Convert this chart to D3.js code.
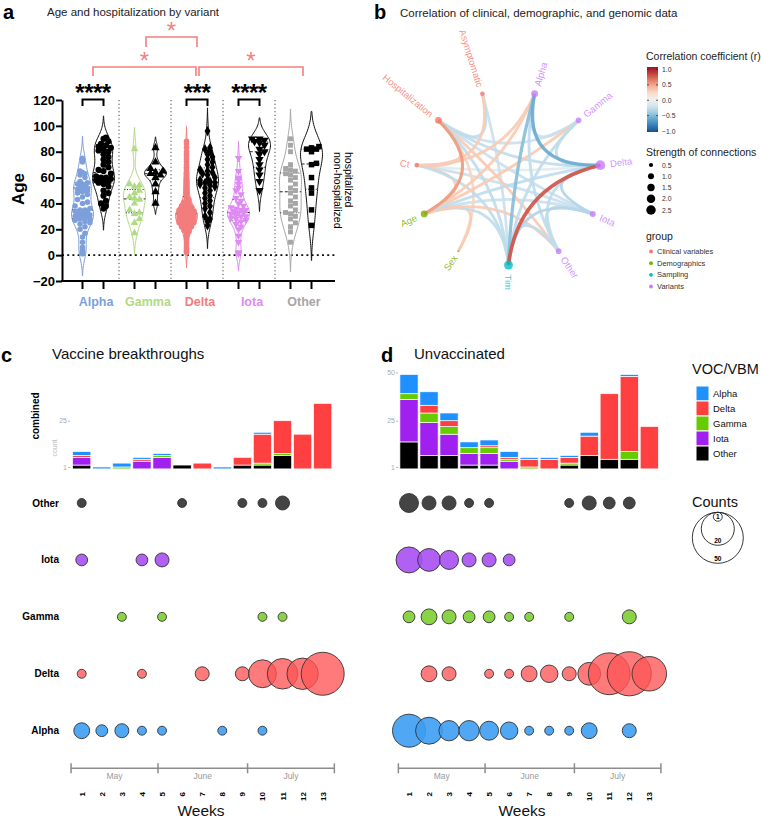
<!DOCTYPE html>
<html><head><meta charset="utf-8">
<script src="https://cdn.jsdelivr.net/npm/d3@7"></script>
<style>body{margin:0;background:#fff} svg{display:block;font-family:"Liberation Sans",Arial,sans-serif}</style>
</head><body><svg id="chart" width="761" height="818"></svg>
<script>
// ================= DATA =================
// Panel a: ages by variant, non-hospitalized / hospitalized
const groupsA = ["Alpha","Gamma","Delta","Iota","Other"];
const alphaNonHosp = [1,2,2,3,4,6,10,14,17,20,22,24,25,26,27,28,28,29,29,30,30,30,31,31,32,32,33,33,34,35,35,36,38,40,41,43,45,47,48,49,50,50,51,51,52,52,53,54,55,55,56,57,60,62,63,64,65,72,73,74,75];
const alphaHosp = [36,38,40,42,46,48,50,53,55,56,57,58,58,59,60,60,61,63,65,66,68,70,72,74,76,78,80,81,82,83,84,85,86,88,90,91];
const gammaNonHosp = [17,25,28,32,33,35,40,43,44,45,48,50,53,54,55,82];
const gammaHosp = [40,49,55,60,62,63,64,65,67,72,83];
const deltaNonHosp = [2,3,4,5,6,8,10,12,14,15,16,17,18,19,20,20,21,21,22,22,23,23,24,24,24,25,25,25,26,26,26,26,27,27,27,27,28,28,28,28,28,29,29,29,29,29,30,30,30,30,30,30,31,31,31,31,31,32,32,32,32,32,33,33,33,33,34,34,34,34,35,35,35,35,36,36,36,37,37,38,38,39,39,40,40,41,42,43,44,45,46,47,48,49,50,51,52,53,54,55,56,57,58,59,60,62,63,64,65,67,68,70,72,74,76,78,80,83,86,88];
const deltaHosp = [23,26,28,30,33,36,38,40,42,44,46,48,50,52,53,54,55,56,56,57,58,58,60,62,63,64,65,66,68,70,72,74,76,78,80,82,83,96];
const iotaNonHosp = [1,2,2,10,15,20,22,24,26,27,28,29,30,30,31,32,33,33,34,35,35,36,37,38,40,42,44,47,50,52,55,58,60,65,75];
const iotaHosp = [50,57,62,66,70,74,78,80,82,85,87,88,89,90,90];
const otherNonHosp = [10,18,22,25,28,30,32,33,35,38,40,42,45,48,50,52,55,58,60,62,63,65,66,67,70,80,85,90];
const otherHosp = [23,35,48,52,60,70,71,80,82,82,83,84];
const ageTicks = [-20,0,20,40,60,80,100,120];
const withinSig = ["****","","***","****",""];
const betweenSig = [["Gamma","Delta","*"],["Alpha","Delta","*"],["Delta","Other","*"]];

// Panel b: correlation network
const corrNodes = ["Time","Other","Iota","Delta","Gamma","Alpha","Asymptomatic","Hospitalization","Ct","Age","Sex"];
const corrNodeGroup = ["Sampling","Variants","Variants","Variants","Variants","Variants","Clinical variables","Clinical variables","Clinical variables","Demographics","Demographics"];
const corrNodeStrength = [2.2,0.9,1.0,2.7,0.9,1.3,0.6,1.3,0.6,1.3,0.1];
const corrEdges = [
 ["Hospitalization","Asymptomatic",-0.3],["Hospitalization","Age",0.5],["Hospitalization","Ct",0.3],
 ["Hospitalization","Delta",-0.3],["Hospitalization","Gamma",-0.25],["Hospitalization","Other",0.3],
 ["Hospitalization","Time",-0.3],["Hospitalization","Iota",-0.25],["Ct","Alpha",0.3],["Ct","Delta",-0.15],
 ["Ct","Age",0.3],["Ct","Time",-0.3],["Ct","Iota",-0.25],["Age","Sex",0.3],["Age","Alpha",0.3],
 ["Age","Gamma",0.3],["Age","Delta",-0.3],["Age","Time",-0.3],["Age","Other",0.3],["Age","Iota",-0.25],
 ["Asymptomatic","Ct",0.3],["Asymptomatic","Time",-0.25],["Alpha","Gamma",-0.25],["Alpha","Delta",-0.6],
 ["Alpha","Time",-0.5],["Alpha","Other",-0.3],["Gamma","Delta",-0.3],["Gamma","Time",-0.3],
 ["Delta","Iota",-0.35],["Delta","Other",-0.3],["Delta","Time",0.75],["Iota","Other",-0.3],
 ["Iota","Time",-0.35],["Other","Time",-0.3],["Sex","Hospitalization",0.25]];
const corrTicks = [1.0,0.5,0.0,-0.5,-1.0];
const strengthTicks = [0.5,1.0,1.5,2.0,2.5];
const groupNames = ["Clinical variables","Demographics","Sampling","Variants"];

// Panels c/d: weekly counts
const weekLabels = ["1","2","3","4","5","6","7","8","9","10","11","12","13"];
const monthLabels = ["May","June","July"];
const monthBreaks = [0.47,4.8,9.26,13.58];
const variantKeys = ["Alpha","Delta","Gamma","Iota","Other"];
// vaccine breakthroughs (bars)
const barC_Alpha = [2,1,2,1,1,0,0,1,0,1,0,0,0];
const barC_Delta = [1,0,0,1,0,0,3,0,4,15,17,18,34];
const barC_Gamma = [0,0,1,0,1,0,0,0,0,1,1,0,0];
const barC_Iota  = [4,0,0,4,6,0,0,0,0,0,0,0,0];
const barC_Other = [2,0,0,0,0,2,0,0,2,2,7,0,0];
// unvaccinated (bars)
const barD_Alpha = [10,7,4,3,3,3,1,1,1,2,0,1,0];
const barD_Delta = [0,4,3,0,1,1,4,5,3,10,34,39,22];
const barD_Gamma = [3,5,4,3,3,1,1,0,1,0,0,4,0];
const barD_Iota  = [22,17,11,6,6,4,0,0,0,0,0,0,0];
const barD_Other = [14,7,7,2,2,0,0,0,2,7,5,5,0];
// bubble rows
const bubC_Alpha = [4,2,3,1,1,0,0,1,0,1,0,0,0];
const bubC_Delta = [1,0,0,1,0,0,3,0,3,14,17,18,35];
const bubC_Gamma = [0,0,1,0,1,0,0,0,0,1,1,0,0];
const bubC_Iota  = [2,0,0,2,3,0,0,0,0,0,0,0,0];
const bubC_Other = [1,0,0,0,0,1,0,0,1,1,3,0,0];
const bubD_Alpha = [20,13,7,7,6,5,1,1,1,4,0,3,0];
const bubD_Delta = [0,4,3,0,1,1,4,5,3,9,33,37,22];
const bubD_Gamma = [2,4,3,2,2,1,1,0,1,0,0,3,0];
const bubD_Iota  = [12,9,6,3,3,2,0,0,0,0,0,0,0];
const bubD_Other = [6,3,3,1,1,0,0,0,1,3,2,2,0];
const countLegend = [50,20,1];

// ================= DRAW =================
const svg = d3.select("#chart");
const label = (g,x,y,t,size,opt={})=>{
  const e=g.append("text").attr("x",x).attr("y",y).attr("font-size",size).text(t);
  Object.entries(opt).forEach(([k,v])=>e.attr(k,v)); return e;};

// ---------- Panel a ----------
const gA = svg.append("g");
label(gA,3,19,"a",20,{"font-weight":"bold"});
label(gA,47,16,"Age and hospitalization by variant",11.5,{fill:"#222"});
const colA = ["#7d9fdb","#b0da84","#f47c7c","#df8af3","#a6a6a6"];
const yA = d3.scaleLinear().domain([-20,120]).range([281,100]);
const xA = d3.scaleBand().domain(groupsA).range([67,327]);
const cxA = (g,h)=>xA(g)+xA.bandwidth()/2+(h?10.5:-10.5);
const nonData = [alphaNonHosp,gammaNonHosp,deltaNonHosp,iotaNonHosp,otherNonHosp];
const hospData = [alphaHosp,gammaHosp,deltaHosp,iotaHosp,otherHosp];

groupsA.slice(1).forEach(g=>gA.append("line").attr("x1",xA(g)).attr("x2",xA(g)).attr("y1",yA(120)).attr("y2",yA(-20))
  .attr("stroke","#444").attr("stroke-width",1).attr("stroke-dasharray","1.2,2.5"));
gA.append("line").attr("x1",62).attr("x2",335).attr("y1",yA(0)).attr("y2",yA(0))
  .attr("stroke","#111").attr("stroke-width",1.8).attr("stroke-dasharray","2,3.2");

function kdeInfo(vals){
  const s=vals.slice().sort(d3.ascending), n=s.length;
  const sd=d3.deviation(s), iqr=d3.quantile(s,.75)-d3.quantile(s,.25);
  const h=0.9*Math.min(sd,iqr/1.34)*Math.pow(n,-0.2);
  const dens=y=>d3.sum(s,v=>Math.exp(-0.5*((y-v)/h)**2));
  const lo=s[0]-2.4*h, hi=s[n-1]+2.4*h;
  const pts=d3.range(0,81).map(i=>{const y=lo+(hi-lo)*i/80;return [y,dens(y)];});
  const mx=d3.max(pts,p=>p[1]);
  return {s,dens,pts,mx,lo,hi};
}
function drawViolin(vals,cx,color,sym,symSize,rot,fill){
  const k=kdeInfo(vals), W=11;
  const hw=y=>k.dens(y)/k.mx*W;
  const pts=[[k.lo,0],...k.pts,[k.hi,0]];
  const area=d3.area().y(p=>yA(p[0])).x0(p=>cx-p[1]/k.mx*W).x1(p=>cx+p[1]/k.mx*W).curve(d3.curveCatmullRom);
  gA.append("path").attr("d",area(pts)).attr("fill","none").attr("stroke",color).attr("stroke-width",1);
  [[.25,"1,1.6"],[.5,"3,2"],[.75,"1,1.6"]].forEach(([q,da])=>{
    const v=d3.quantile(k.s,q), w=hw(v);
    gA.append("line").attr("x1",cx-w).attr("x2",cx+w).attr("y1",yA(v)).attr("y2",yA(v))
      .attr("stroke","#222").attr("stroke-width",1).attr("stroke-dasharray",da);
  });
  const r=2.6, placed=[];
  k.s.forEach(v=>{
    const py=yA(v), maxOff=Math.max(0,hw(v)-1.5);
    const cands=[0]; for(let j=1;j<=8;j++){cands.push(j*r*0.95,-j*r*0.95);}
    let best=0,score=-1;
    for(const o of cands){
      if(Math.abs(o)>maxOff+0.01) continue;
      const md=placed.length?d3.min(placed,p=>Math.hypot(p[0]-(cx+o),p[1]-py)):99;
      if(md>=2*r*0.9){best=o;score=99;break;}
      if(md>score){score=md;best=o;}
    }
    placed.push([cx+best,py]);
  });
  gA.append("g").selectAll("path").data(placed).join("path")
    .attr("transform",p=>`translate(${p[0]},${p[1]}) rotate(${rot})`)
    .attr("d",d3.symbol().type(sym).size(symSize)).attr("fill",fill);
}
const symNon=[d3.symbolCircle,d3.symbolTriangle,d3.symbolCircle,d3.symbolTriangle,d3.symbolSquare];
const symHosp=[d3.symbolCircle,d3.symbolTriangle,d3.symbolDiamond,d3.symbolTriangle,d3.symbolSquare];
groupsA.forEach((g,i)=>{
  const rot = g==="Iota"?180:0;
  drawViolin(nonData[i],cxA(g,false),colA[i],symNon[i],24,rot,colA[i]);
  drawViolin(hospData[i],cxA(g,true),"#111",symHosp[i],30,rot,"#000");
});
const yAxisA=gA.append("g").attr("transform","translate(62,0)")
  .call(d3.axisLeft(yA).tickValues(ageTicks).tickSize(6).tickSizeOuter(0));
yAxisA.select(".domain").attr("stroke-width",2);
yAxisA.selectAll(".tick line").attr("stroke-width",2);
yAxisA.selectAll(".tick text").attr("font-size",13).attr("font-weight","bold").attr("fill","#000")
  .attr("font-family","Liberation Sans,Arial,sans-serif").attr("x",-7);
gA.append("line").attr("x1",61).attr("x2",335).attr("y1",281).attr("y2",281).attr("stroke","#000").attr("stroke-width",2);
groupsA.forEach(g=>[false,true].forEach(h=>gA.append("line").attr("x1",cxA(g,h)).attr("x2",cxA(g,h))
  .attr("y1",281).attr("y2",289).attr("stroke","#000").attr("stroke-width",2)));
groupsA.forEach((g,i)=>label(gA,xA(g)+xA.bandwidth()/2+3,305.5,g,12.5,{"font-weight":"bold",fill:colA[i],"text-anchor":"middle"}));
label(gA,0,0,"Age",17,{"font-weight":"bold","text-anchor":"middle","transform":"translate(24,189) rotate(-90)"});
label(gA,0,0,"hospitalized",10.5,{"transform":"translate(345,152) rotate(90)"});
label(gA,0,0,"non-hospitalized",10.5,{"transform":"translate(334,152) rotate(90)"});
groupsA.forEach((g,i)=>{
  if(!withinSig[i]) return;
  const x1=cxA(g,false),x2=cxA(g,true);
  gA.append("path").attr("d",`M${x1},106V99.5H${x2}V106`).attr("fill","none").attr("stroke","#000").attr("stroke-width",2);
  label(gA,(x1+x2)/2,101,withinSig[i],24,{"font-weight":"bold","text-anchor":"middle","letter-spacing":"-0.5"});
});
const redC="#f37f7f";
betweenSig.forEach(([a,b,s],i)=>{
  const top = i===0?37:67, leg = i===0?47:76;
  const x1=xA(a)+xA.bandwidth()/2+(i===2?2:0)+(i===0?1:0), x2=xA(b)+xA.bandwidth()/2+(i===1?-1:0)+(i===2?2:0);
  gA.append("path").attr("d",`M${x1},${leg}V${top}H${x2}V${leg}`).attr("fill","none").attr("stroke",redC).attr("stroke-width",1.6);
  label(gA,(x1+x2)/2,top+2,s,24,{fill:redC,"text-anchor":"middle"});
});

// ---------- Panel b ----------
svg.append("clipPath").attr("id","clipB").append("rect").attr("x",365).attr("y",0).attr("width",396).attr("height",290);
const gB = svg.append("g").attr("clip-path","url(#clipB)");
label(svg,374,19,"b",20,{"font-weight":"bold"});
label(gB,400,17,"Correlation of clinical, demographic, and genomic data",11.5,{fill:"#222"});
const groupColor = {"Clinical variables":"#F8766D","Demographics":"#7CAE00","Sampling":"#00BFC4","Variants":"#C77CFF"};
const cB={x:508.5,y:177.6}, Rx=92.7, Ry=87.4;
const angB=d3.scaleLinear().domain([0,corrNodes.length]).range([0,2*Math.PI]);
const nodePos={};
corrNodes.forEach((n,i)=>{const t=angB(i); nodePos[n]=[cB.x+Rx*Math.sin(t), cB.y+Ry*Math.cos(t)];});
const rdbu = d3.scaleLinear().domain([-1,1]).range([0.92,0.08]);
const edgeCol = r=>d3.interpolateRdBu(rdbu(r));
const pull=0.8;
corrEdges.slice().sort((a,b)=>Math.abs(a[2])-Math.abs(b[2])).forEach(([a,b,r])=>{
  const p=nodePos[a],q=nodePos[b];
  const mx=(p[0]+q[0])/2, my=(p[1]+q[1])/2;
  const qx=mx+pull*(cB.x-mx), qy=my+pull*(cB.y-my);
  gB.append("path").attr("d",`M${p[0]},${p[1]}Q${qx},${qy} ${q[0]},${q[1]}`)
    .attr("fill","none").attr("stroke",edgeCol(r)).attr("stroke-width",2.3+1.8*Math.abs(r)).attr("stroke-opacity",0.92);
});
const rNode = d3.scaleSqrt().domain([0,2.5]).range([0,4.75]);
corrNodes.forEach((n,i)=>{
  const [x,y]=nodePos[n], col=groupColor[corrNodeGroup[i]], rr=rNode(corrNodeStrength[i]);
  gB.append("circle").attr("cx",x).attr("cy",y).attr("r",rr).attr("fill",col).attr("fill-opacity",0.8);
  const dx=x-cB.x, dy=y-cB.y, L=Math.hypot(dx,dy), ux=dx/L, uy=dy/L;
  let ang=Math.atan2(dy,dx)*180/Math.PI, anchor="start";
  if(dx<-0.5){ang+=180;anchor="end";}
  const off=rr+5;
  label(gB,0,0,n,9.5,{fill:col,"fill-opacity":0.85,"text-anchor":anchor,"dominant-baseline":"central",
    transform:`translate(${x+ux*off},${y+uy*off}) rotate(${ang})`});
});
label(gB,646,60,"Correlation coefficient (r)",10.5,{fill:"#222"});
const yCb = d3.scaleLinear().domain([1,-1]).range([69.5,131]);
const grad=svg.append("defs").append("linearGradient").attr("id","rdbuG").attr("x1",0).attr("x2",0).attr("y1",0).attr("y2",1);
d3.range(0,11).forEach(i=>grad.append("stop").attr("offset",i/10).attr("stop-color",edgeCol(1.03-2.06*i/10)));
gB.append("rect").attr("x",647).attr("y",67).attr("width",11).attr("height",65).attr("fill","url(#rdbuG)");
corrTicks.forEach(t=>{
  [[647,649],[656,658]].forEach(([a,b])=>gB.append("line").attr("x1",a).attr("x2",b).attr("y1",yCb(t)).attr("y2",yCb(t)).attr("stroke","#333").attr("stroke-width",0.8));
  label(gB,662,yCb(t),t.toFixed(1).replace("-","\u2212"),6.8,{"dominant-baseline":"central",fill:"#333"});
});
label(gB,646,156,"Strength of connections",10.5,{fill:"#222"});
const ySt = d3.scalePoint().domain(strengthTicks).range([165,210]);
strengthTicks.forEach(s=>{
  gB.append("circle").attr("cx",651).attr("cy",ySt(s)).attr("r",rNode(s)).attr("fill","#000");
  label(gB,662,ySt(s),s.toFixed(1),6.8,{"dominant-baseline":"central",fill:"#333"});
});
label(gB,646,240,"group",10.5,{fill:"#222"});
const yGr = d3.scalePoint().domain(groupNames).range([251.5,286.5]);
groupNames.forEach(g=>{
  gB.append("circle").attr("cx",651).attr("cy",yGr(g)).attr("r",1.9).attr("fill",groupColor[g]);
  label(gB,657,yGr(g),g,7.5,{"dominant-baseline":"central",fill:"#333"});
});

// ---------- Panels c & d ----------
const barColor = {Alpha:"#1e90ff",Delta:"#ff4040",Gamma:"#66cc00",Iota:"#a020f0",Other:"#000000"};
const bubColor = {Alpha:"#3d9df2",Delta:"#ff5656",Gamma:"#84d13d",Iota:"#a74ff1",Other:"#3a3a3a"};
const bubOpacity = {Alpha:0.9,Delta:0.78,Gamma:0.95,Iota:0.9,Other:0.95};
const stackOrder = ["Other","Iota","Gamma","Delta","Alpha"];
const rowOrder = ["Other","Iota","Gamma","Delta","Alpha"];
const yBar = d3.scaleLinear().domain([0,50]).range([468.9,372.5]);
const yRow = d3.scalePoint().domain(rowOrder).range([503,730.7]);
const rBub = d3.scaleSqrt().domain([0,50]).range([1,25.5]);

function drawWeekly(cfg){
  const g=svg.append("g");
  const xW=d3.scaleLinear().domain([1,13]).range(cfg.xr);
  const step=(cfg.xr[1]-cfg.xr[0])/12;
  const xB=d3.scaleBand().domain(weekLabels).range([cfg.xr[0]-step/2,cfg.xr[1]+step/2]).paddingInner(0.09).paddingOuter(0.045);
  const rows=weekLabels.map((w,i)=>{const o={week:w};variantKeys.forEach((k,j)=>o[k]=cfg.bars[j][i]);return o;});
  const series=d3.stack().keys(stackOrder)(rows);
  series.forEach(s=>{
    g.append("g").selectAll("rect").data(s.filter(d=>d[1]>d[0])).join("rect")
      .attr("x",d=>xB(d.data.week)).attr("width",xB.bandwidth())
      .attr("y",d=>yBar(d[1])).attr("height",d=>yBar(d[0])-yBar(d[1]))
      .attr("fill",barColor[s.key]).attr("stroke","#fff").attr("stroke-width",0.7);
  });
  const ax=g.append("g").attr("transform",`translate(${cfg.axisX},0)`)
    .call(d3.axisLeft(yBar).tickValues(cfg.ticks).tickSize(2).tickPadding(1));
  ax.select(".domain").remove();
  ax.selectAll(".tick line").attr("stroke","#bbb");
  ax.selectAll(".tick text").attr("fill","#aaa").attr("font-size",7).attr("font-family","Liberation Sans,Arial,sans-serif");
  rowOrder.forEach(v=>{
    const vals=cfg.bubs[variantKeys.indexOf(v)];
    const dd=weekLabels.map((w,i)=>({w:i+1,n:vals[i]})).filter(d=>d.n>0);
    g.append("g").selectAll("circle").data(dd).join("circle")
      .attr("cx",d=>xW(d.w)).attr("cy",yRow(v)).attr("r",d=>rBub(d.n))
      .attr("fill",bubColor[v]).attr("fill-opacity",bubOpacity[v]).attr("stroke","#333").attr("stroke-width",0.9);
  });
  const yT=768.3;
  g.append("line").attr("x1",xW(monthBreaks[0])).attr("x2",xW(monthBreaks[3])).attr("y1",yT).attr("y2",yT).attr("stroke","#8c8c8c").attr("stroke-width",1.5);
  monthBreaks.forEach(m=>g.append("line").attr("x1",xW(m)).attr("x2",xW(m)).attr("y1",yT-5).attr("y2",yT+5).attr("stroke","#8c8c8c").attr("stroke-width",1.5));
  monthLabels.forEach((m,i)=>label(g,xW((monthBreaks[i]+monthBreaks[i+1])/2),778.5,m,8.5,{fill:"#999","text-anchor":"middle"}));
  weekLabels.forEach((w,i)=>label(g,0,0,w,8,{"font-weight":"bold","text-anchor":"end",transform:`translate(${xW(i+1)+3},792) rotate(-90)`}));
  label(g,cfg.weeksX,815.5,"Weeks",15.5,{"text-anchor":"middle",fill:"#111"});
  label(g,cfg.letterX,362,cfg.letter,20,{"font-weight":"bold"});
  label(g,cfg.titleX,358.5,cfg.title,15,{fill:"#111"});
  return g;
}
const gC=drawWeekly({xr:[81.7,322.7],bars:[barC_Alpha,barC_Delta,barC_Gamma,barC_Iota,barC_Other],
  bubs:[bubC_Alpha,bubC_Delta,bubC_Gamma,bubC_Iota,bubC_Other],axisX:70,ticks:[1,25],
  weeksX:201,letter:"c",letterX:1,title:"Vaccine breakthroughs",titleX:52});
const gD=drawWeekly({xr:[409,649.3],bars:[barD_Alpha,barD_Delta,barD_Gamma,barD_Iota,barD_Other],
  bubs:[bubD_Alpha,bubD_Delta,bubD_Gamma,bubD_Iota,bubD_Other],axisX:398,ticks:[1,25,50],
  weeksX:522,letter:"d",letterX:381,title:"Unvaccinated",titleX:414});
rowOrder.forEach(v=>label(gC,59,yRow(v),v,10,{"font-weight":"bold","text-anchor":"end","dominant-baseline":"central"}));
label(gC,0,0,"combined",10,{"font-weight":"bold","text-anchor":"middle","dominant-baseline":"central",transform:"translate(35,416) rotate(-90)"});
label(gC,0,0,"count",7,{fill:"#bbb","text-anchor":"middle","dominant-baseline":"central",transform:"translate(54,448) rotate(-90)"});
const gL=svg.append("g");
label(gL,692,374,"VOC/VBM",14.5,{fill:"#111"});
const yLeg=d3.scaleBand().domain(variantKeys).range([386,461]);
variantKeys.forEach(v=>{
  gL.append("rect").attr("x",696).attr("y",yLeg(v)).attr("width",13).attr("height",yLeg.bandwidth())
    .attr("fill",barColor[v]).attr("stroke","#fff").attr("stroke-width",1);
  label(gL,713,yLeg(v)+yLeg.bandwidth()/2,v,9.5,{"dominant-baseline":"central",fill:"#111"});
});
label(gL,692,507,"Counts",14.5,{fill:"#111"});
const topC=512.3, cxC=717.8;
countLegend.forEach(n=>{
  const r=rBub(n);
  gL.append("circle").attr("cx",cxC).attr("cy",topC+r).attr("r",r).attr("fill","none").attr("stroke","#222").attr("stroke-width",0.9);
  label(gL,cxC,topC+2*r-Math.min(r,5),n,6.5,{"font-weight":"bold","text-anchor":"middle","dominant-baseline":"central"});
});
</script></body></html>
